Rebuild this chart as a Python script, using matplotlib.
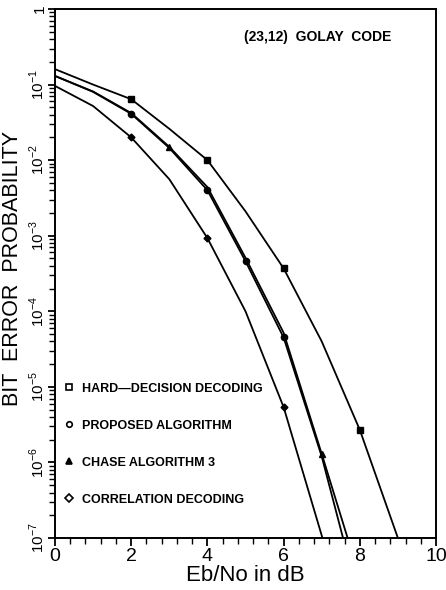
import matplotlib
matplotlib.use("Agg")
import matplotlib.pyplot as plt
from matplotlib.ticker import FixedLocator, MultipleLocator, LogLocator, NullFormatter
from matplotlib.lines import Line2D

plt.rcParams['font.family'] = ['Liberation Sans', 'DejaVu Sans']
plt.rcParams['mathtext.fontset'] = 'custom'
plt.rcParams['mathtext.rm'] = 'Liberation Sans'

# ---- data ----
hard_x = [0, 1, 2, 3, 4, 5, 6, 7, 8, 9.0]
hard_y = [0.16, 0.10, 0.064, 0.026, 0.010, 2.1e-3, 3.7e-4, 4.0e-5, 2.7e-6, 1e-7]
hard_mx = [2, 4, 6, 8]
hard_my = [0.064, 0.010, 3.7e-4, 2.7e-6]

prop_x = [0, 1, 2, 3, 4, 5, 6, 7, 7.56]
prop_y = [0.13, 0.080, 0.041, 0.0145, 0.0040, 4.6e-4, 4.5e-5, 1.2e-6, 1e-7]
prop_mx = [2, 4, 5, 6]
prop_my = [0.041, 0.0040, 4.6e-4, 4.5e-5]

chase_x = [0, 1, 2, 3, 4, 5, 6, 7, 7.68]
chase_y = [0.13, 0.081, 0.042, 0.0150, 0.0044, 5.1e-4, 5.2e-5, 1.3e-6, 1e-7]
chase_mx = [3, 7]
chase_my = [0.0150, 1.3e-6]

corr_x = [0, 1, 2, 3, 4, 5, 6, 7.02]
corr_y = [0.096, 0.052, 0.020, 0.0056, 9.3e-4, 1.0e-4, 5.4e-6, 1e-7]
corr_mx = [2, 4, 6]
corr_my = [0.020, 9.3e-4, 5.4e-6]

legend_labels = ["HARD\u2014DECISION DECODING", "PROPOSED ALGORITHM",
                 "CHASE ALGORITHM 3", "CORRELATION DECODING"]
x_ticks = [0, 2, 4, 6, 8, 10]
y_ticks = [1e-7, 1e-6, 1e-5, 1e-4, 1e-3, 1e-2, 1e-1, 1]
y_tick_labels = [r'$10^{-7}$', r'$10^{-6}$', r'$10^{-5}$', r'$10^{-4}$',
                 r'$10^{-3}$', r'$10^{-2}$', r'$10^{-1}$', '1']

fig = plt.figure(figsize=(4.46, 5.90), dpi=100)
ax = fig.add_axes([55/446, 1-538/590, (436-55)/446, (538-9)/590])

lw = 1.3
series = [
    (hard_x, hard_y, hard_mx, hard_my, 's'),
    (prop_x, prop_y, prop_mx, prop_my, 'o'),
    (chase_x, chase_y, chase_mx, chase_my, '^'),
    (corr_x, corr_y, corr_mx, corr_my, 'D'),
]
for xs, ys, mx, my, m in series:
    ax.plot(xs, ys, color='black', lw=lw)
    ax.plot(mx, my, linestyle='none', marker=m, color='black',
            markersize=4.5 if m != 'D' else 3.5)

ax.set_yscale('log')
ax.set_xlim(0, 10)
ax.set_ylim(1e-7, 1)

ax.xaxis.set_major_locator(FixedLocator(x_ticks))
ax.xaxis.set_minor_locator(MultipleLocator(0.4))
ax.set_xticklabels([str(t) for t in x_ticks], fontsize=14)
ax.yaxis.set_major_locator(FixedLocator(y_ticks))
ax.yaxis.set_minor_locator(LogLocator(base=10, subs=range(2, 10), numticks=20))
ax.yaxis.set_minor_formatter(NullFormatter())
ax.set_yticklabels(y_tick_labels, fontsize=11, rotation=90, va='center')

ax.tick_params(axis='both', which='major', direction='out', length=6, width=1.3)
ax.tick_params(axis='both', which='minor', direction='out', length=4, width=1.0)
ax.tick_params(axis='y', which='major', length=5)
ax.tick_params(axis='x', pad=1)
ax.tick_params(axis='y', pad=0.5)
for s in ax.spines.values():
    s.set_linewidth(1.4)

ax.set_xlabel('Eb/No in dB', fontsize=16, labelpad=0)
ax.set_ylabel('BIT  ERROR  PROBABILITY', fontsize=15.5)
ax.yaxis.set_label_coords(-0.083, 0.51)

ax.text(0.69, 0.947, '(23,12)  GOLAY  CODE', transform=ax.transAxes,
        ha='center', va='center', fontsize=10, fontweight='bold')

handles = [Line2D([], [], linestyle='none', marker=m, color='black',
                  markerfacecolor='white' if m != '^' else 'black',
                  markersize=4, markeredgewidth=1.2)
           for m in ['s', 'o', '^', 'D']]
leg = ax.legend(handles, legend_labels, loc='upper left',
                bbox_to_anchor=(-0.005, 0.315), frameon=False,
                handlelength=0.8, handletextpad=0.6, labelspacing=2.0,
                prop={'size': 9, 'weight': 'bold'})

fig.savefig('out.png', dpi=100)
